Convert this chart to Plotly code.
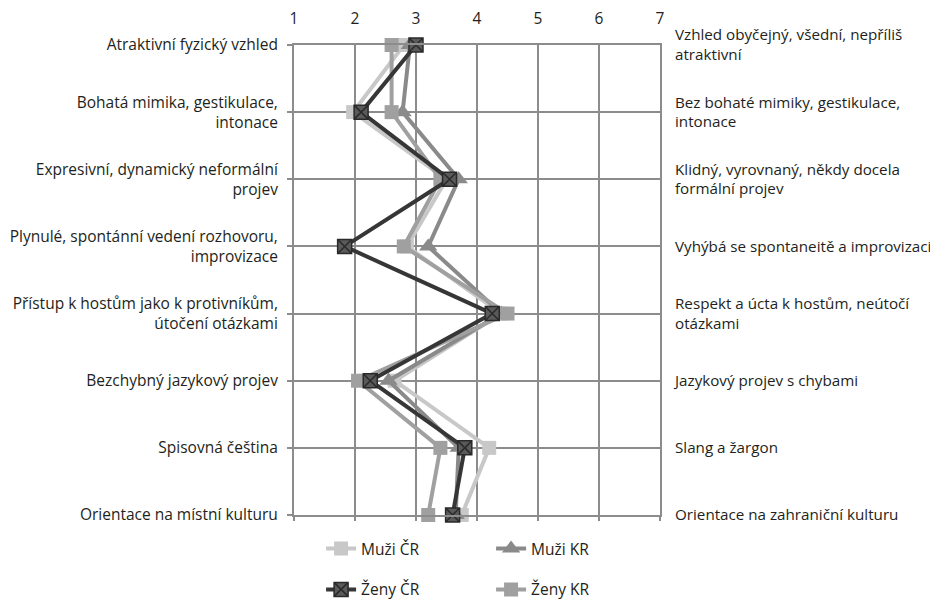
import plotly.graph_objects as go

rows = [1, 2, 3, 4, 5, 6, 7, 8]
left_labels = [
    "Atraktivní fyzický vzhled",
    "Bohatá mimika, gestikulace,<br>intonace",
    "Expresivní, dynamický neformální<br>projev",
    "Plynulé, spontánní vedení rozhovoru,<br>improvizace",
    "Přístup k hostům jako k protivníkům,<br>útočení otázkami",
    "Bezchybný jazykový projev",
    "Spisovná čeština",
    "Orientace na místní kulturu",
]
right_labels = [
    "Vzhled obyčejný, všední, nepříliš<br>atraktivní",
    "Bez bohaté mimiky, gestikulace,<br>intonace",
    "Klidný, vyrovnaný, někdy docela<br>formální projev",
    "Vyhýbá se spontaneitě a improvizaci",
    "Respekt a úcta k hostům, neútočí<br>otázkami",
    "Jazykový projev s chybami",
    "Slang a žargon",
    "Orientace na zahraniční kulturu",
]
x_ticks = [1, 2, 3, 4, 5, 6, 7]

muzi_cr = [2.8, 1.97, 3.5, 2.85, 4.4, 2.65, 4.2, 3.75]
muzi_kr = [2.9, 2.78, 3.7, 3.2, 4.4, 2.55, 3.7, 3.65]
zeny_cr = [3.0, 2.1, 3.55, 1.83, 4.25, 2.25, 3.8, 3.6]
zeny_kr = [2.6, 2.6, 3.4, 2.8, 4.5, 2.05, 3.4, 3.2]

FONT = "Open Sans"
FS = 15.5
FS_R = 15.2
TXT = "#231f20"
GRID = "#8c8c8c"

fig = go.Figure()

fig.add_trace(go.Scatter(
    x=muzi_cr, y=rows, name="Muži ČR", mode="lines+markers",
    line=dict(color="#c8c8c8", width=4),
    marker=dict(symbol="square", size=14, color="#c8c8c8"),
    legend="legend", legendrank=1, cliponaxis=False))
fig.add_trace(go.Scatter(
    x=muzi_kr, y=rows, name="Muži KR", mode="lines+markers",
    line=dict(color="#8a8a8a", width=4),
    marker=dict(symbol="triangle-up", size=16, color="#8a8a8a"),
    legend="legend", legendrank=2, cliponaxis=False))
fig.add_trace(go.Scatter(
    x=zeny_kr, y=rows, name="Ženy KR", mode="lines+markers",
    line=dict(color="#a0a0a0", width=4),
    marker=dict(symbol="square", size=14, color="#a0a0a0"),
    legend="legend2", legendrank=2, cliponaxis=False))
fig.add_trace(go.Scatter(
    x=zeny_cr, y=rows, name="Ženy ČR", mode="lines+markers",
    line=dict(color="#363636", width=4),
    marker=dict(symbol="square-x", size=14, color="#5a5a5a",
                line=dict(color="#2a2a2a", width=1.5)),
    legend="legend2", legendrank=1, cliponaxis=False))
# helper trace to anchor the secondary axes (bottom ticks, right labels)
fig.add_trace(go.Scatter(x=[None], y=[None], xaxis="x2", yaxis="y2",
                         showlegend=False, hoverinfo="skip"))

fig.update_layout(
    width=938, height=601,
    margin=dict(l=286, r=286, t=37, b=94, autoexpand=False),
    paper_bgcolor="white", plot_bgcolor="white",
    font=dict(family=FONT, size=FS, color=TXT),
    xaxis=dict(range=[1, 7], side="top", tickvals=x_ticks,
               ticktext=[str(v) for v in x_ticks], ticks="",
               showgrid=True, gridcolor=GRID, gridwidth=2,
               showline=True, linecolor=GRID, linewidth=2, mirror=True,
               zeroline=False, ticklabelstandoff=13, automargin=False,
               tickfont=dict(family=FONT, size=FS, color=TXT)),
    yaxis=dict(range=[8, 1], tickvals=rows, ticktext=left_labels,
               ticks="outside", ticklen=5, tickcolor=GRID, tickwidth=2,
               showgrid=True, gridcolor=GRID, gridwidth=2,
               showline=True, linecolor=GRID, linewidth=2, mirror=True,
               zeroline=False, ticklabelstandoff=6, automargin=False,
               tickfont=dict(family=FONT, size=FS, color=TXT)),
    xaxis2=dict(range=[1, 7], overlaying="x", side="bottom", anchor="y2",
                tickvals=x_ticks, showticklabels=False, ticks="outside",
                ticklen=5, tickcolor=GRID, tickwidth=2, showgrid=False,
                zeroline=False, showline=False, automargin=False),
    yaxis2=dict(range=[8, 1], overlaying="y", side="right", anchor="x2",
                tickvals=rows, ticktext=right_labels, ticks="",
                showgrid=False, zeroline=False, showline=False,
                ticklabelstandoff=14, automargin=False,
                tickfont=dict(family=FONT, size=FS_R, color=TXT)),
    legend=dict(orientation="h", x=0.074, xanchor="left", y=-0.036,
                yanchor="top", entrywidth=125, entrywidthmode="pixels",
                font=dict(family=FONT, size=FS, color=TXT),
                bgcolor="rgba(0,0,0,0)"),
    legend2=dict(orientation="h", x=0.074, xanchor="left", y=-0.123,
                 yanchor="top", entrywidth=125, entrywidthmode="pixels",
                 font=dict(family=FONT, size=FS, color=TXT),
                 bgcolor="rgba(0,0,0,0)"),
)

fig.write_html("out.html")
